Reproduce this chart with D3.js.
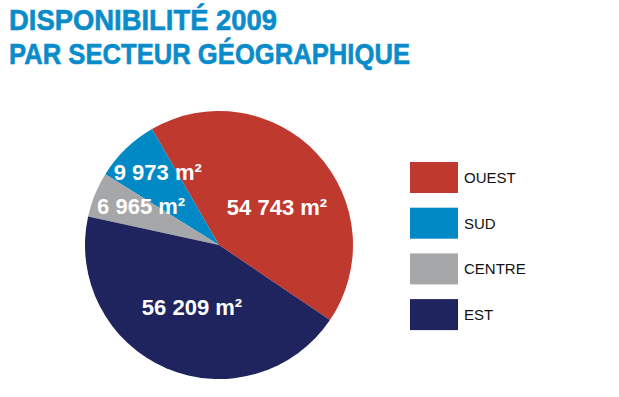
<!DOCTYPE html>
<html>
<head>
<meta charset="utf-8">
<script src="https://d3js.org/d3.v7.min.js"></script>
<style>
  body { margin: 0; background: #fff; }
  svg { display: block; }
</style>
</head>
<body>
<div id="chart"></div>
<script>
// Données
const secteurs = ["OUEST", "SUD", "CENTRE", "EST"];
const surfaces = [54743, 9973, 6965, 56209];
const etiquettes = ["54 743 m²", "9 973 m²", "6 965 m²", "56 209 m²"];
const couleurs = ["#c0392e", "#0089c4", "#a6a7a9", "#20245e"];
// ordre des parts dans le camembert (sens horaire)
const ordrePie = ["OUEST", "EST", "CENTRE", "SUD"];
const titre = ["DISPONIBILITÉ 2009", "PAR SECTEUR GÉOGRAPHIQUE"];

const width = 619, height = 397;

const svg = d3.select("#chart")
    .append("svg")
    .attr("width", width)
    .attr("height", height);

// Titre
const titreLargeurs = [268, 401];
titre.forEach((t, i) => {
    svg.append("text")
        .attr("x", 9)
        .attr("y", 29.5 + i * 34)
        .attr("font-family", "Liberation Sans, Arial, sans-serif")
        .attr("font-weight", "bold")
        .attr("font-size", 29.5)
        .attr("fill", "#0a8ccb")
        .attr("stroke", "#0a8ccb")
        .attr("stroke-width", 0.6)
        .attr("textLength", titreLargeurs[i])
        .attr("lengthAdjust", "spacingAndGlyphs")
        .text(t);
});

const data = secteurs.map((s, i) => ({
    secteur: s,
    valeur: surfaces[i],
    label: etiquettes[i],
    couleur: couleurs[i]
}));

// Camembert
const cx = 219, cy = 245, r = 134;
const start = -30 * Math.PI / 180;

const pie = d3.pie()
    .value(d => d.valeur)
    .sort((a, b) => ordrePie.indexOf(a.secteur) - ordrePie.indexOf(b.secteur))
    .startAngle(start)
    .endAngle(start + 2 * Math.PI);

const arc = d3.arc().innerRadius(0).outerRadius(r);

const g = svg.append("g")
    .attr("transform", `translate(${cx},${cy})`);

const arcs = pie(data);

g.selectAll("path")
    .data(arcs)
    .enter()
    .append("path")
    .attr("d", arc)
    .attr("fill", d => d.data.couleur);

// Position des étiquettes : rayon relatif + décalage d'angle (degrés)
const rayonLabel = { OUEST: 0.517, SUD: 0.71, CENTRE: 0.65, EST: 0.505 };
const decalAngle = { OUEST: 9.8, SUD: 4, CENTRE: 4.5, EST: 0.3 };

g.selectAll("text.val")
    .data(arcs)
    .enter()
    .append("text")
    .attr("class", "val")
    .attr("transform", d => {
        const a = (d.startAngle + d.endAngle) / 2 + decalAngle[d.data.secteur] * Math.PI / 180;
        const rr = r * rayonLabel[d.data.secteur];
        return `translate(${Math.sin(a) * rr},${-Math.cos(a) * rr})`;
    })
    .attr("text-anchor", "middle")
    .attr("dy", "0.36em")
    .attr("font-family", "Liberation Sans, Arial, sans-serif")
    .attr("font-weight", "bold")
    .attr("font-size", 22)
    .attr("fill", "#fff")
    .text(d => d.data.label);

// Légende
const legende = svg.append("g")
    .attr("transform", "translate(410,162)");

const pas = 45.7;

legende.selectAll("rect")
    .data(data)
    .enter()
    .append("rect")
    .attr("x", 0)
    .attr("y", (d, i) => i * pas)
    .attr("width", 48)
    .attr("height", 31)
    .attr("fill", d => d.couleur);

legende.selectAll("text")
    .data(data)
    .enter()
    .append("text")
    .attr("x", 54)
    .attr("y", (d, i) => i * pas + 15.5)
    .attr("dy", "0.36em")
    .attr("font-family", "Liberation Sans, Arial, sans-serif")
    .attr("font-size", 15)
    .attr("fill", "#111")
    .text(d => d.secteur);
</script>
</body>
</html>
